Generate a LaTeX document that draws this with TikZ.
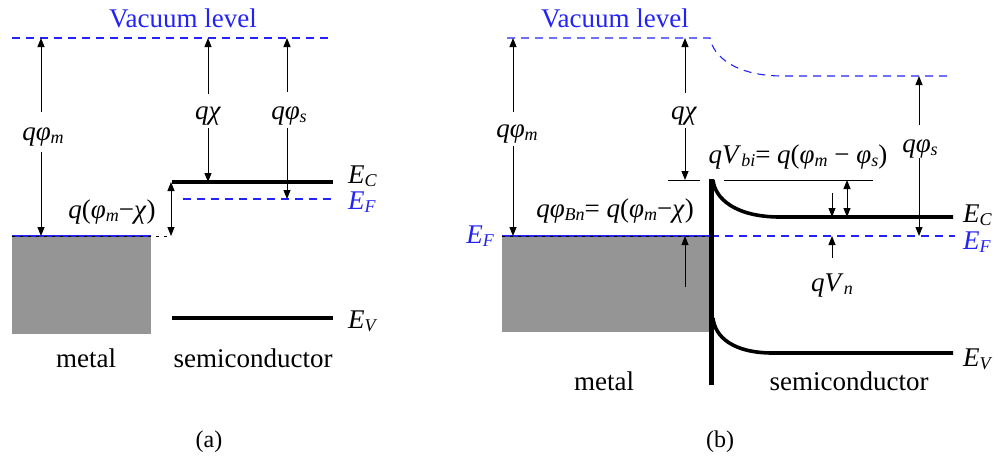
\documentclass[tikz,border=0pt]{standalone}
\usepackage{fontspec}
\setmainfont{Liberation Serif}
\newfontfamily\timesfam{Liberation Serif}
\usetikzlibrary{arrows.meta}
\definecolor{vblue}{RGB}{35,35,245}
\definecolor{metalgray}{RGB}{149,149,149}
\newcommand{\sbs}[1]{\raisebox{-0.25ex}{\fontsize{18}{18}\selectfont\itshape #1}}
\begin{document}
\begin{tikzpicture}[x=1pt,y=-1pt,
  vac/.style={draw=vblue, line width=1.1pt, dash pattern=on 8pt off 6pt},
  efsolid/.style={draw=vblue, line width=1.1pt},
  efdots/.style={draw=black, line width=0.8pt, dash pattern=on 3pt off 5pt},
  band/.style={line width=3.6pt},
  iface/.style={line width=5pt},
  thinline/.style={line width=1pt},
  arr/.style={line width=1pt, -{Triangle[length=9pt,width=7pt]}},
  darr/.style={line width=1pt, {Triangle[length=9pt,width=7pt]}-{Triangle[length=9pt,width=7pt]}},
  lbl/.style={font=\timesfam\fontsize{27}{30}\selectfont, inner sep=0pt, anchor=base},
  blbl/.style={lbl, text=vblue},
  captxt/.style={font=\timesfam\fontsize{24}{28}\selectfont, inner sep=0pt, anchor=base}]
\useasboundingbox (0,0) rectangle (996,459);

% ================= (a) =================
\fill[metalgray] (12,236) rectangle (151,334);
\draw[vac] (12,38) -- (332,38);
\draw[band] (172,182) -- (333,182);
\draw[vac] (183,199) -- (333,199);
\draw[band] (172,318) -- (333,318);
\draw[efsolid] (12,236) -- (151,236);
\draw[efdots] (12,236) -- (172,236);

\node[blbl] (vacA) at (183,27) {Vacuum level};
\node[lbl, anchor=base west] (ecA) at (348,183) {\textit{E}\sbs{C}};
\node[blbl, anchor=base west] (efA) at (348,209) {\textit{E}\sbs{F}};
\node[lbl, anchor=base west] (evA) at (348,328) {\textit{E}\sbs{V}};
\node[lbl] (metA) at (86,367) {metal};
\node[lbl] (semA) at (253,367) {semiconductor};
\node[captxt] (capA) at (209,447) {(a)};

% q phi_m
\coordinate (am1) at (41,38);  \coordinate (am2) at (41,236);
\coordinate (am3) at (41,112); \coordinate (am4) at (41,152);
\node[lbl] (lqpmA) at (43,140) {\textit{qφ}\sbs{m}};
\draw[arr] (am3) -- (am1);
\draw[arr] (am4) -- (am2);
% q chi
\coordinate (ac1) at (208,38);  \coordinate (ac2) at (208,182);
\coordinate (ac3) at (208,94);  \coordinate (ac4) at (208,128);
\node[lbl] (lqcA) at (208,119) {\textit{qχ}};
\draw[arr] (ac3) -- (ac1);
\draw[arr] (ac4) -- (ac2);
% q phi_s
\coordinate (as1) at (287,38);  \coordinate (as2) at (287,199);
\coordinate (as3) at (287,92);  \coordinate (as4) at (287,128);
\node[lbl] (lqpsA) at (289,119) {\textit{qφ}\sbs{s}};
\draw[arr] (as3) -- (as1);
\draw[arr] (as4) -- (as2);
% q(phi_m - chi)
\coordinate (ab1) at (171,182); \coordinate (ab2) at (171,236);
\draw[darr] (ab1) -- (ab2);
\node[lbl] (lbarA) at (112,218) {\textit{q}(\textit{φ}\sbs{m}−\textit{χ})};

% ================= (b) =================
\fill[metalgray] (502,236) rectangle (711,332);
\draw[vac] (507,38) -- (710,38) .. controls (713,56) and (735,76) .. (783,76) -- (953,76);
\draw[band] (713,180) .. controls (715,199) and (736,217) .. (780,217) -- (953,217);
\draw[band] (713,318) .. controls (715,337) and (733,353) .. (773,353) -- (953,353);
\draw[efsolid] (502,236) -- (711,236);
\draw[efdots] (502,236) -- (711,236);
\draw[vac] (711,236) -- (955,236);
\draw[iface] (711,179) -- (711,385);

\node[blbl] (vacB) at (615,27) {Vacuum level};
\node[lbl, anchor=base west] (ecB) at (963,222) {\textit{E}\sbs{C}};
\node[blbl, anchor=base west] (efB) at (963,249) {\textit{E}\sbs{F}};
\node[lbl, anchor=base west] (evB) at (963,366) {\textit{E}\sbs{V}};
\node[blbl, anchor=base east] (efBl) at (494,243) {\textit{E}\sbs{F}};
\node[lbl] (metB) at (604,390) {metal};
\node[lbl] (semB) at (849,390) {semiconductor};
\node[captxt] (capB) at (720,447) {(b)};

% q phi_m
\coordinate (bm1) at (513,38);  \coordinate (bm2) at (513,236);
\coordinate (bm3) at (513,112); \coordinate (bm4) at (513,146);
\node[lbl] (lqpmB) at (517,137) {\textit{qφ}\sbs{m}};
\draw[arr] (bm3) -- (bm1);
\draw[arr] (bm4) -- (bm2);
% q chi
\coordinate (bc1) at (685,38);  \coordinate (bc2) at (685,180);
\coordinate (bc3) at (685,93);  \coordinate (bc4) at (685,128);
\node[lbl] (lqcB) at (684,119) {\textit{qχ}};
\draw[arr] (bc3) -- (bc1);
\draw[arr] (bc4) -- (bc2);
% ticks at barrier top
\coordinate (t1) at (668,180); \coordinate (t2) at (700,180);
\coordinate (t3) at (724,180); \coordinate (t4) at (873,180);
\draw[thinline] (t1) -- (t2);
\draw[thinline] (t3) -- (t4);
% q phi_Bn
\coordinate (bn1) at (685,287); \coordinate (bn2) at (685,236);
\draw[arr] (bn1) -- (bn2);
\node[lbl] (lqbn) at (615,217) {\textit{qφ}\sbs{Bn}= \textit{q}(\textit{φ}\sbs{m}−\textit{χ})};
% q V_bi
\coordinate (vb1) at (847,180); \coordinate (vb2) at (847,217);
\draw[darr] (vb1) -- (vb2);
\node[lbl] (lqvbi) at (798,163) {\textit{qV}\sbs{bi}= \textit{q}(\textit{φ}\sbs{m} − \textit{φ}\sbs{s})};
% q V_n
\coordinate (vn1) at (832,193); \coordinate (vn2) at (832,217);
\coordinate (vn3) at (832,258); \coordinate (vn4) at (832,236);
\draw[arr] (vn1) -- (vn2);
\draw[arr] (vn3) -- (vn4);
\node[lbl] (lqvn) at (832,291) {\textit{qV}\sbs{n}};
% q phi_s
\coordinate (bs1) at (919,76);  \coordinate (bs2) at (919,236);
\coordinate (bs3) at (919,125); \coordinate (bs4) at (919,158);
\node[lbl] (lqpsB) at (920,152) {\textit{qφ}\sbs{s}};
\draw[arr] (bs3) -- (bs1);
\draw[arr] (bs4) -- (bs2);
\end{tikzpicture}
\end{document}
